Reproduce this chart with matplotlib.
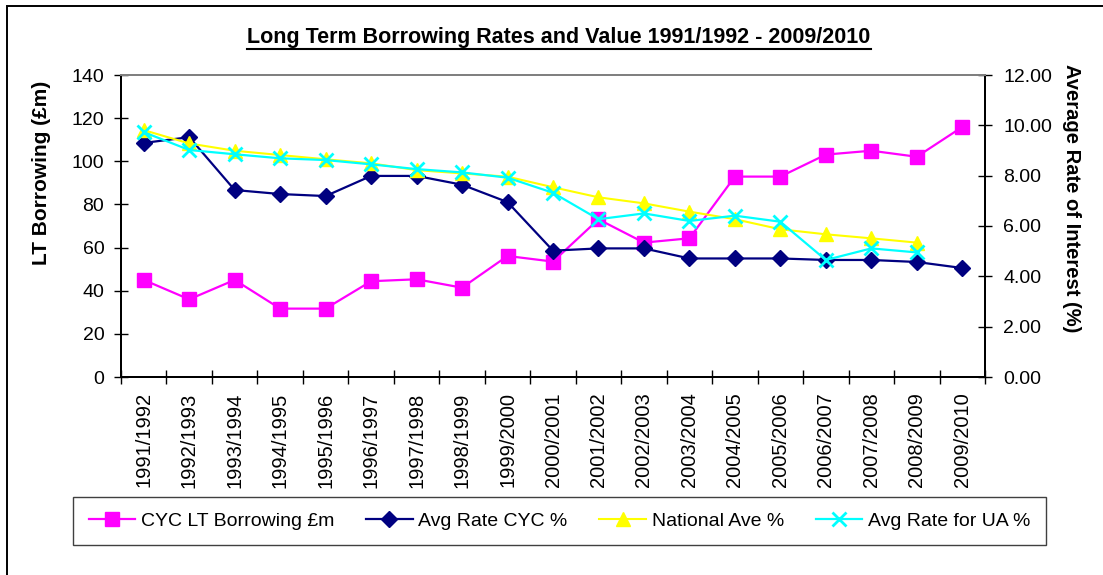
import matplotlib.pyplot as plt
import numpy as np
from matplotlib.lines import Line2D
from matplotlib.patches import Rectangle

plt.rcParams['font.family'] = ['Liberation Sans', 'DejaVu Sans']

years = ['1991/1992', '1992/1993', '1993/1994', '1994/1995', '1995/1996',
         '1996/1997', '1997/1998', '1998/1999', '1999/2000', '2000/2001',
         '2001/2002', '2002/2003', '2003/2004', '2004/2005', '2005/2006',
         '2006/2007', '2007/2008', '2008/2009', '2009/2010']
borrowing = [45, 36, 45, 31.7, 31.7, 44.4, 45.3, 41.4, 56.1, 53.5,
             73.1, 62.3, 64.3, 92.9, 92.9, 103.1, 104.9, 102.1, 115.9]
rate_cyc = [9.30, 9.53, 7.43, 7.27, 7.19, 7.99, 7.99, 7.64, 6.95, 5.02,
            5.11, 5.11, 4.71, 4.71, 4.71, 4.65, 4.65, 4.57, 4.33]
national = [9.81, 9.28, 8.99, 8.82, 8.65, 8.49, 8.22, 8.09, 7.96, 7.54,
            7.14, 6.90, 6.57, 6.27, 5.87, 5.67, 5.51, 5.34, np.nan]
rate_ua = [9.73, 9.02, 8.85, 8.69, 8.62, 8.45, 8.26, 8.13, 7.92, 7.32,
           6.27, 6.50, 6.20, 6.41, 6.17, 4.65, 5.11, 4.95, np.nan]

W, H = 1103, 575
fig = plt.figure(figsize=(W / 100, H / 100), dpi=100)
ax = fig.add_axes([121 / W, 1 - 377 / H, (985 - 121) / W, (377 - 75) / H])
ax2 = ax.twinx()

x = np.arange(len(years)) + 0.5

ax.plot(x, borrowing, color='#FF00FF', marker='s', markersize=9.5, linewidth=1.6,
        label='CYC LT Borrowing £m')
ax2.plot(x, rate_cyc, color='#000080', marker='D', markersize=8, linewidth=1.6,
         label='Avg Rate CYC %')
ax2.plot(x, national, color='#FFFF00', marker='^', markersize=10, linewidth=1.5,
         label='National Ave %')
ax2.plot(x, rate_ua, color='#00FFFF', marker='x', markersize=10, markeredgewidth=2,
         linewidth=1.6, label='Avg Rate for UA %')

ax.set_xlim(0, len(years))
ax.set_ylim(0, 140)
ax2.set_ylim(0, 12)
ax.set_yticks(np.arange(0, 141, 20))
ax2.set_yticks(np.arange(0, 12.1, 2))
ax2.set_yticklabels(['%.2f' % v for v in np.arange(0, 12.1, 2)])

ax.set_xticks(np.arange(len(years) + 1))
ax.set_xticklabels([])
ax.set_xticks(x, labels=years, minor=True, rotation=90)
ax.tick_params(axis='x', which='minor', length=0, pad=11, labelsize=14.5)
ax.tick_params(axis='x', which='major', direction='inout', length=10, width=1)
ax.tick_params(axis='y', direction='inout', length=10, width=1, pad=7, labelsize=14)
ax2.tick_params(axis='y', direction='inout', length=10, width=1, pad=8, labelsize=14)

for a in (ax, ax2):
    for s in a.spines.values():
        s.set_linewidth(1.4)
        s.set_color('black')
    a.spines['top'].set_color('#808080')

fig.text(42 / W, 1 - 173 / H, 'LT Borrowing (£m)', rotation=90, ha='center',
         va='center', fontsize=15, fontweight='bold')
fig.text(1071 / W, 1 - 198 / H, 'Average Rate of Interest (%)', rotation=-90,
         ha='center', va='center', fontsize=14.5, fontweight='bold')

title = fig.text(559 / W, 1 - 43 / H,
                 'Long Term Borrowing Rates and Value 1991/1992 - 2009/2010',
                 ha='center', va='baseline', fontsize=15.5, fontweight='bold')

h1, l1 = ax.get_legend_handles_labels()
h2, l2 = ax2.get_legend_handles_labels()
leg = fig.legend(h1 + h2, l1 + l2, loc='center', ncol=4, mode='expand',
                 bbox_to_anchor=(73 / W, 1 - 548 / H, (1046 - 73) / W, 54 / H),
                 fontsize=14, fancybox=False, edgecolor='#404040', framealpha=1,
                 handlelength=2.4, handletextpad=0.3, borderpad=0.8, borderaxespad=0)
leg.get_frame().set_linewidth(1.0)

fig.add_artist(Rectangle((7 / W, -0.1), 1.2, 1.1 - 6 / H, transform=fig.transFigure,
                         fill=False, edgecolor='black', linewidth=1.4, clip_on=False))

fig.canvas.draw()
bb = title.get_window_extent().transformed(fig.transFigure.inverted())
fig.add_artist(Line2D([bb.x0, bb.x1], [1 - 49 / H, 1 - 49 / H], transform=fig.transFigure,
                      color='black', linewidth=1.5))

fig.savefig('out.png', dpi=100)
